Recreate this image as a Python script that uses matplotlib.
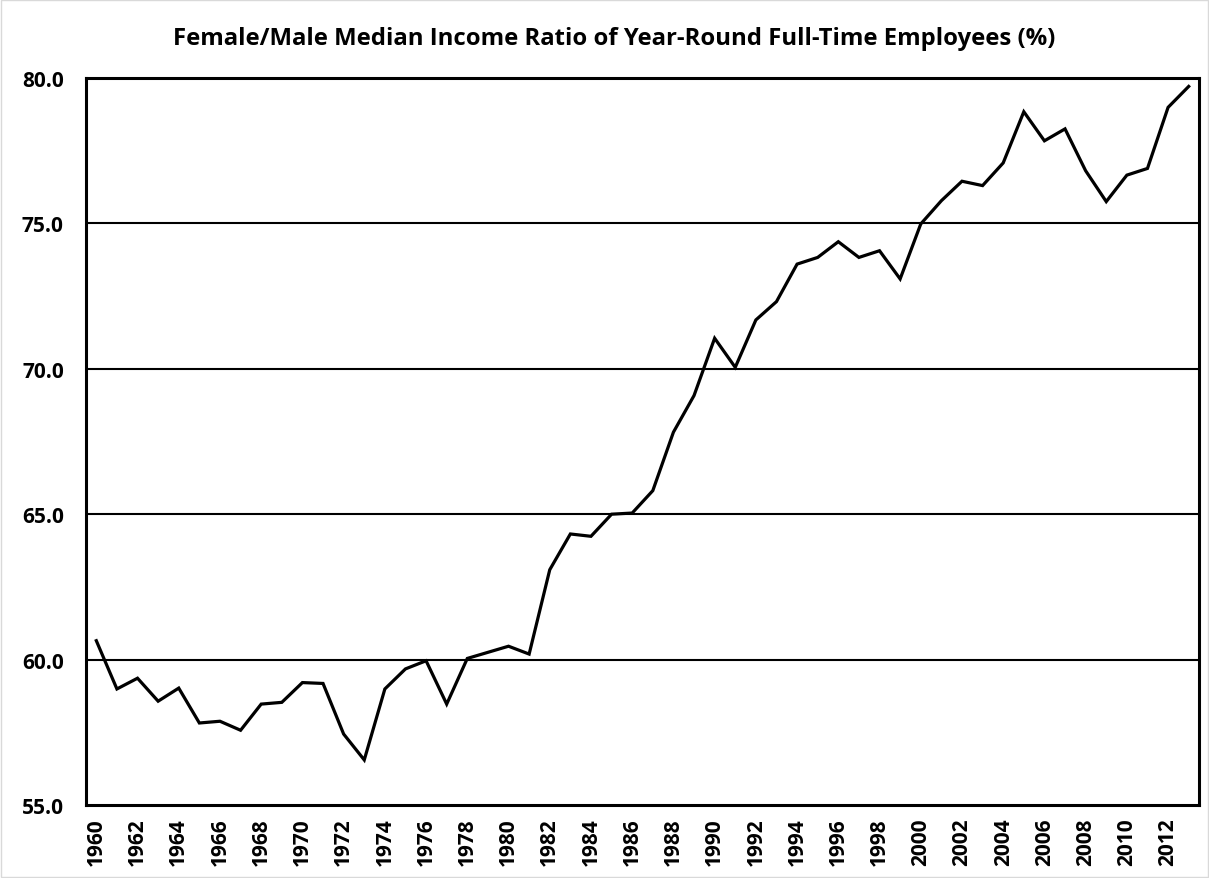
import matplotlib.pyplot as plt
from matplotlib.patches import Rectangle

years = list(range(1960, 2014))
ratio = [60.65, 58.99, 59.36, 58.57, 59.02, 57.82, 57.88, 57.57, 58.47, 58.53,
         59.21, 59.18, 57.44, 56.55, 58.99, 59.68, 59.96, 58.47, 60.04, 60.25,
         60.46, 60.19, 63.09, 64.32, 64.24, 65.00, 65.04, 65.81, 67.82, 69.08,
         71.05, 70.05, 71.68, 72.31, 73.60, 73.83, 74.37, 73.83, 74.06, 73.09,
         74.98, 75.78, 76.45, 76.30, 77.08, 78.84, 77.84, 78.25, 76.81, 75.75,
         76.66, 76.89, 78.99, 79.71]
yticks = [55, 60, 65, 70, 75, 80]

plt.rcParams['font.family'] = ['Open Sans', 'DejaVu Sans']

fig = plt.figure(figsize=(12.09, 8.79), dpi=100)
ax = fig.add_axes([86 / 1209, 1 - 806 / 879, (1199 - 86) / 1209, (806 - 79) / 879])

x = list(range(len(years)))
ax.plot(x, ratio, color='black', linewidth=2.3, solid_joinstyle='miter', zorder=3)

ax.set_xlim(-0.5, len(years) - 0.5)
ax.set_ylim(55, 80)
ax.set_yticks(yticks)
ax.set_yticklabels([f'{v:.1f}' for v in yticks], fontsize=15, fontweight='bold')
ax.set_xticks(x[::2])
ax.set_xticklabels([str(y) for y in years[::2]], rotation=90, fontsize=15, fontweight='bold')
ax.tick_params(axis='y', length=0, pad=16)
ax.tick_params(axis='x', length=0, pad=9)

for v in yticks[1:-1]:
    ax.axhline(v, color='black', linewidth=1.5, zorder=2)

for s in ax.spines.values():
    s.set_linewidth(2.2)
    s.set_color('black')

fig.text(0.508, 1 - 45 / 879, 'Female/Male Median Income Ratio of Year-Round Full-Time Employees (%)',
         ha='center', va='baseline', fontsize=17.2, fontweight='bold')

fig.patches.append(Rectangle((0.001, 0.001), 0.998, 0.998, transform=fig.transFigure,
                             fill=False, edgecolor='#d9d9d9', linewidth=1))

fig.savefig('out.png', dpi=100)
